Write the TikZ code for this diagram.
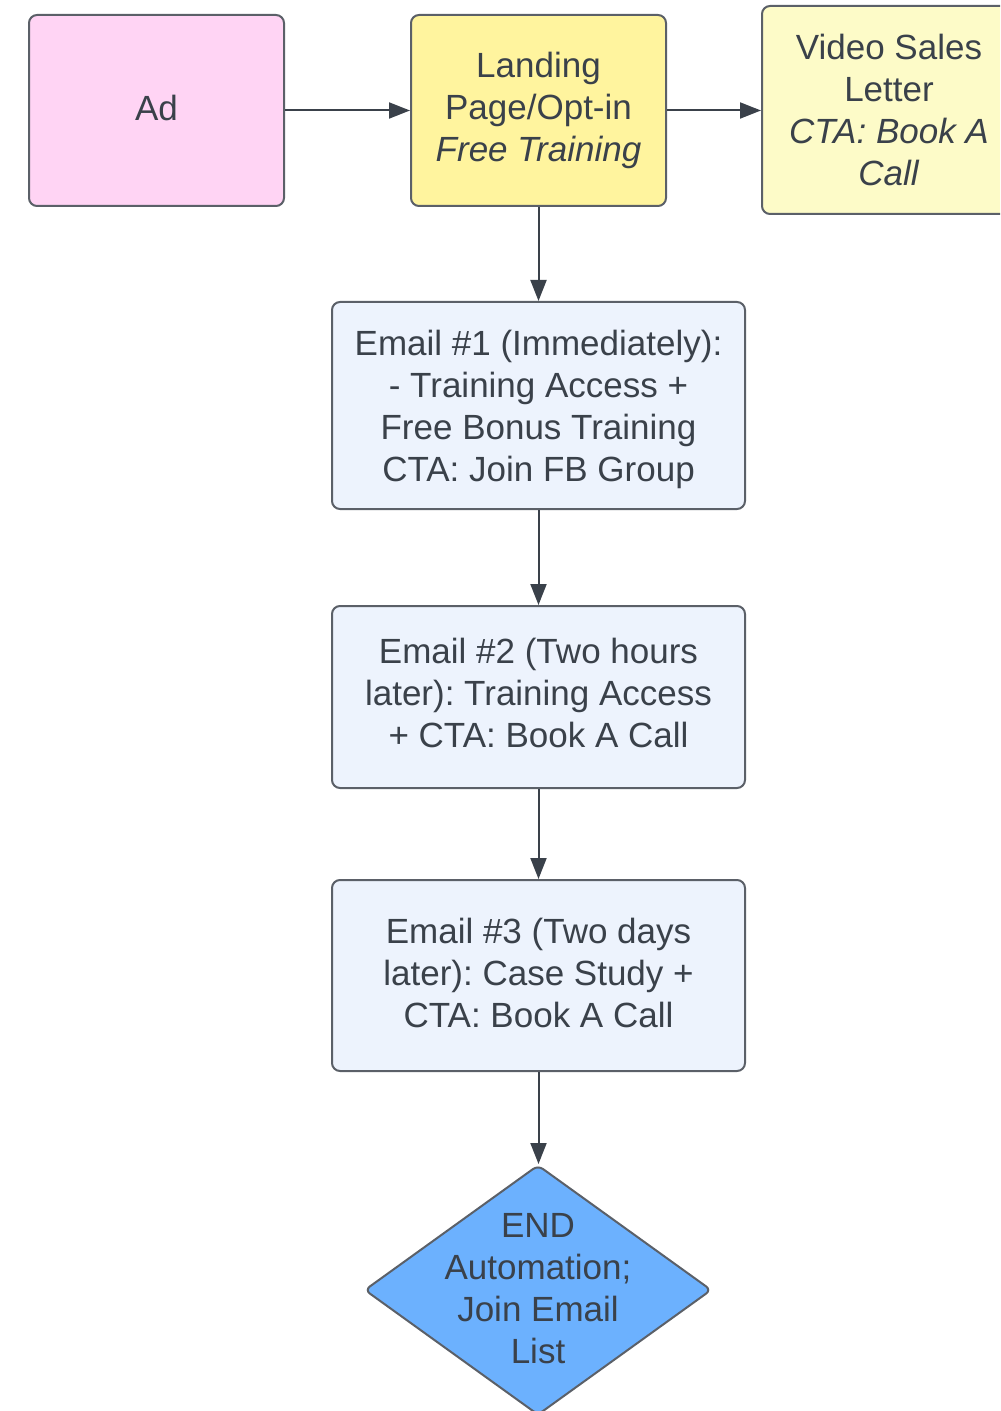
\documentclass[tikz,border=0pt]{standalone}
\usepackage{fontspec}
\setmainfont{Liberation Sans}
\frenchspacing
\usetikzlibrary{shapes.geometric,arrows.meta}
\definecolor{ink}{HTML}{3A414A}
\definecolor{edge}{HTML}{5B6068}
\definecolor{pinkfill}{HTML}{FFD4F4}
\definecolor{yellowfill}{HTML}{FFF49E}
\definecolor{paleyellow}{HTML}{FDFBC8}
\definecolor{bluefill}{HTML}{EDF3FD}
\definecolor{diamondfill}{HTML}{6CB1FE}
\begin{document}
\begin{tikzpicture}[x=0.5pt,y=-0.5pt,
  box/.style={draw=edge, line width=1pt, rounded corners=4pt, align=center, text=ink,
    font=\fontsize{17.5}{21}\selectfont, inner sep=0pt},
  txt/.style={align=center, text=ink, font=\fontsize{17.5}{21}\selectfont, inner sep=0pt},
  link/.style={draw=ink, line width=1pt, -{Triangle[length=10.5pt,width=8pt]}}]
\useasboundingbox (0,0) rectangle (1000,1411);
\clip (0,0) rectangle (1000,1411);
\node[box, fill=pinkfill, minimum width=127.5pt, minimum height=95.5pt] (ad) at (156.5,110.5) {};
\node[txt] (adt) at (156.5,108) {Ad};
\node[box, fill=yellowfill, minimum width=127.5pt, minimum height=95.5pt] (lp) at (538.5,110.5)
  {Landing\\Page/Opt-in\\\textit{Free Training}};
\node[box, fill=paleyellow, minimum width=127pt, minimum height=104pt] (vsl) at (889,110)
  {Video Sales\\Letter\\\textit{CTA: Book A}\\\textit{Call}};
\node[box, fill=bluefill, minimum width=206.5pt, minimum height=103.5pt] (e1) at (538.5,405.5)
  {};
\node[txt] (e1t) at (538.5,409)
  {Email \#1 (Immediately):\\- Training Access +\\Free Bonus Training\\CTA: Join FB Group};
\node[box, fill=bluefill, minimum width=206.5pt, minimum height=91pt] (e2) at (538.5,697)
  {};
\node[txt] (e2t) at (538.5,693) {Email \#2 (Two hours\\later): Training Access\\+ CTA: Book A Call};
\node[box, fill=bluefill, minimum width=206.5pt, minimum height=95.5pt] (e3) at (538.5,975.5)
  {};
\node[txt] (e3t) at (538.5,973) {Email \#3 (Two days\\later): Case Study +\\CTA: Book A Call};
\node[draw=edge, line width=1pt, fill=diamondfill, diamond, rounded corners=3pt, inner sep=0pt,
  minimum width=173.5pt, minimum height=125pt] (end) at (538,1290) {};
\node[txt] (endt) at (538,1289) {END\\Automation;\\Join Email\\List};
\draw[link] (ad.east) -- (lp.west);
\draw[link] (lp.east) -- (lp.east -| vsl.west);
\draw[link] (lp.south) -- (e1.north);
\draw[link] (e1.south) -- (e2.north);
\draw[link] (e2.south) -- (e3.north);
\draw[link] (e3.south) -- (e3.south |- end.north);
\end{tikzpicture}
\end{document}
